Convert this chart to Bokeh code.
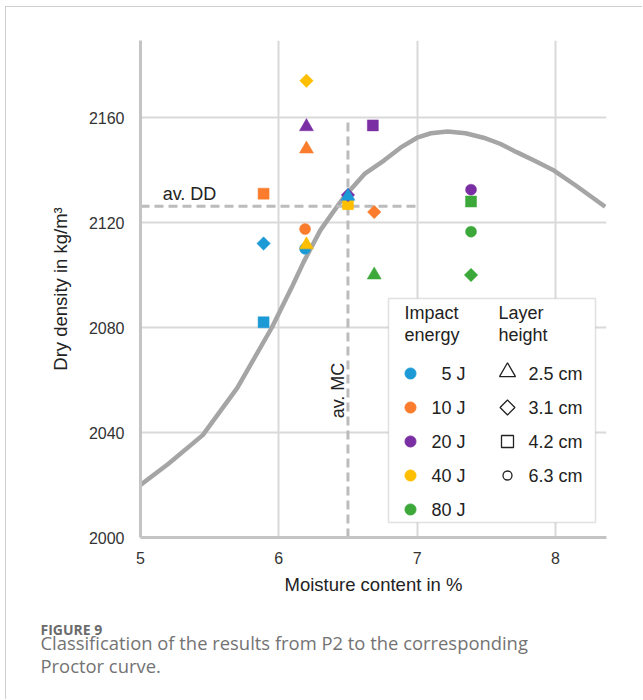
import math
from bokeh.plotting import figure
from bokeh.models import (Range1d, FixedTicker, Label, BoxAnnotation,
                          ColumnDataSource, Title)
from bokeh.embed import file_html
from bokeh.resources import INLINE

# ---------------- data ----------------
# Proctor curve
curve_mc = [5.0, 5.2, 5.45, 5.7, 5.95, 6.1, 6.18, 6.3, 6.38, 6.47, 6.62, 6.76,
            6.88, 7.0, 7.1, 7.22, 7.35, 7.48, 7.6, 7.72, 7.85, 7.99, 8.15, 8.36]
curve_dd = [2020, 2028, 2039, 2057, 2080, 2096, 2105, 2117, 2123, 2129.6, 2138.5, 2143.6,
            2148.5, 2152.3, 2154, 2154.7, 2154, 2152.3, 2150, 2146.8, 2143.5, 2139.8, 2134, 2126]

# P2 results (drawing order as in the reference)
pt_energy = ["5 J", "5 J", "5 J", "10 J", "10 J", "10 J", "10 J", "20 J", "20 J", "20 J",
             "40 J", "40 J", "40 J", "20 J", "5 J", "80 J", "80 J", "80 J", "80 J"]
pt_layer = ["3.1 cm", "4.2 cm", "6.3 cm", "2.5 cm", "3.1 cm", "4.2 cm", "6.3 cm", "2.5 cm", "4.2 cm", "6.3 cm",
            "3.1 cm", "2.5 cm", "4.2 cm", "3.1 cm", "2.5 cm", "2.5 cm", "3.1 cm", "4.2 cm", "6.3 cm"]
pt_mc = [5.89, 5.89, 6.19, 6.2, 6.69, 5.89, 6.19, 6.2, 6.68, 7.39,
         6.2, 6.2, 6.5, 6.5, 6.5, 6.69, 7.39, 7.39, 7.39]
pt_dd = [2112, 2082, 2110, 2148, 2124, 2131, 2117.5, 2156.5, 2157, 2132.5,
         2174, 2111.5, 2127, 2130.5, 2130, 2100, 2100, 2128, 2116.5]

av_mc = 6.5
av_dd = 2126.2

energies = ["5 J", "10 J", "20 J", "40 J", "80 J"]
layers = ["2.5 cm", "3.1 cm", "4.2 cm", "6.3 cm"]
y_ticks = [2000, 2040, 2080, 2120, 2160]
x_ticks = [5, 6, 7, 8]

# ---------------- styles ----------------
energy_color = {"5 J": "#1c9ad6", "10 J": "#fa7c2c", "20 J": "#7a2ea3",
                "40 J": "#fdbf00", "80 J": "#3ca83a"}
layer_marker = {"2.5 cm": "triangle", "3.1 cm": "square", "4.2 cm": "square", "6.3 cm": "circle"}
layer_size = {"2.5 cm": 14, "3.1 cm": 9.5, "4.2 cm": 11, "6.3 cm": 11}
layer_angle = {"2.5 cm": 0.0, "3.1 cm": math.pi / 4, "4.2 cm": 0.0, "6.3 cm": 0.0}

FONT = "Liberation Sans"
CAP_FONT = "Open Sans"

# page frame offset (grey page border at left/top)
OX, OY = 6, 7
W, H = 643 - OX, 700 - OY
L = 140 - OX          # frame left in canvas px
T = 40 - OY           # frame top in canvas px
R = 643 - 606
B = 700 - 537
FW, FH = W - L - R, H - T - B
px_per_x = 138.3
px_per_y = 2.625

p = figure(width=W, height=H,
           x_range=Range1d(5, 5 + FW / px_per_x),
           y_range=Range1d(2000, 2000 + FH / px_per_y),
           output_backend="svg", toolbar_location=None,
           min_border_left=L, min_border_right=R, min_border_top=T, min_border_bottom=B)
p.outline_line_color = None
p.background_fill_color = "white"
p.border_fill_color = "white"
p.styles = {"margin-left": f"{OX - 1}px", "margin-top": f"{OY - 1}px",
            "border-left": "1px solid #cfcfcf", "border-top": "1px solid #cfcfcf"}

# pixel-space range for the legend
p.extra_x_ranges = {"px": Range1d(0, FW)}
p.extra_y_ranges = {"px": Range1d(0, FH)}

# axes
for ax in (p.xaxis[0], p.yaxis[0]):
    ax.axis_line_color = "#c4c4c4"
    ax.axis_line_width = 3
    ax.major_tick_line_color = None
    ax.minor_tick_line_color = None
    ax.major_label_text_font = FONT
    ax.major_label_text_font_size = "16px"
    ax.major_label_text_color = "#333333"
    ax.axis_label_text_font = FONT
    ax.axis_label_text_font_size = "18.5px"
    ax.axis_label_text_font_style = "normal"
    ax.axis_label_text_color = "#222222"

p.xaxis.ticker = FixedTicker(ticks=x_ticks)
p.yaxis.ticker = FixedTicker(ticks=y_ticks)
p.xaxis.axis_label = "Moisture content in %"
p.yaxis.axis_label = "Dry density in kg/m³"
p.xaxis.major_label_standoff = 8
p.yaxis.major_label_standoff = 10
p.xaxis.axis_label_standoff = 7
p.yaxis.axis_label_standoff = 15

p.xgrid.ticker = FixedTicker(ticks=[6, 7, 8])
p.ygrid.ticker = FixedTicker(ticks=[2040, 2080, 2120, 2160])
p.grid.grid_line_color = "#d9d9d9"
p.grid.grid_line_width = 2

# Proctor curve
p.line(curve_mc, curve_dd, line_color="#a5a5a5", line_width=4.5)

# average lines
p.line([5, 7], [av_dd, av_dd], line_color="#bcbcbc", line_width=3, line_dash="9 5")
p.line([av_mc, av_mc], [2000, 2160], line_color="#bcbcbc", line_width=3, line_dash="9 5")

p.add_layout(Label(x=5.16, y=av_dd + 4.5, text="av. DD", text_font=FONT,
                   text_font_size="18px", text_color="#222222", text_baseline="middle"))
p.add_layout(Label(x=6.425, y=2056, text="av. MC", text_font=FONT, angle=math.pi / 2,
                   text_font_size="18px", text_color="#222222",
                   text_baseline="middle", text_align="center"))

# points
src = ColumnDataSource(dict(
    x=pt_mc, y=pt_dd,
    color=[energy_color[e] for e in pt_energy],
    marker=[layer_marker[l] for l in pt_layer],
    size=[layer_size[l] for l in pt_layer],
    angle=[layer_angle[l] for l in pt_layer],
))
p.scatter("x", "y", source=src, marker="marker", size="size", angle="angle",
          fill_color="color", line_color="color", line_width=0.5)

# ---------------- legend (pixel space of the frame) ----------------
def sx(cx):
    return cx - 140

def sy(cy):
    return 537 - cy

p.add_layout(BoxAnnotation(left=sx(388), right=sx(595), top=sy(298), bottom=sy(522),
                           left_units="screen", right_units="screen",
                           top_units="screen", bottom_units="screen",
                           fill_color="white", fill_alpha=1.0,
                           line_color="#9a9a9a", line_width=1.5, level="annotation"))

hdr = dict(text_font=FONT, text_font_size="18px", text_color="#222222",
           text_baseline="middle", x_units="screen", y_units="screen", level="overlay")
p.add_layout(Label(x=sx(404), y=sy(312), text="Impact", **hdr))
p.add_layout(Label(x=sx(404), y=sy(334), text="energy", **hdr))
p.add_layout(Label(x=sx(498), y=sy(312), text="Layer", **hdr))
p.add_layout(Label(x=sx(498), y=sy(334), text="height", **hdr))

row_y = [373, 407, 441, 475, 509]
leg_src = ColumnDataSource(dict(
    x=[sx(410)] * len(energies),
    y=[sy(row_y[i]) for i in range(len(energies))],
    color=[energy_color[e] for e in energies],
))
p.scatter("x", "y", source=leg_src, marker="circle", size=11, fill_color="color",
          line_color="color", x_range_name="px", y_range_name="px", level="overlay")
for i, e in enumerate(energies):
    p.add_layout(Label(x=sx(465), y=sy(row_y[i]), text=e, text_align="right", **hdr))

shape_marker = {"2.5 cm": "triangle", "3.1 cm": "square", "4.2 cm": "square", "6.3 cm": "circle"}
shape_size = {"2.5 cm": 16, "3.1 cm": 10.5, "4.2 cm": 12, "6.3 cm": 9}
shape_angle = {"2.5 cm": 0.0, "3.1 cm": math.pi / 4, "4.2 cm": 0.0, "6.3 cm": 0.0}
shp_src = ColumnDataSource(dict(
    x=[sx(507)] * len(layers),
    y=[sy(row_y[i]) + (1.5 if layers[i] == "2.5 cm" else 0) for i in range(len(layers))],
    marker=[shape_marker[l] for l in layers],
    size=[shape_size[l] for l in layers],
    angle=[shape_angle[l] for l in layers],
))
p.scatter("x", "y", source=shp_src, marker="marker", size="size", angle="angle",
          fill_color=None, line_color="#222222", line_width=1.3,
          x_range_name="px", y_range_name="px", level="overlay")
for i, l in enumerate(layers):
    p.add_layout(Label(x=sx(528), y=sy(row_y[i]), text=l, **hdr))

# ---------------- caption (titles below the x axis) ----------------
cap_off = 40 - 140
# blank spacer between the x axis and the caption
p.add_layout(Title(text=" ", align="left", offset=0, standoff=4,
                   text_font=CAP_FONT, text_font_size="10px", text_color="white"), "below")
p.add_layout(Title(text="FIGURE 9", align="left", offset=cap_off, standoff=0,
                   text_font=CAP_FONT, text_font_size="14px", text_font_style="bold",
                   text_color="#6b6b6b"), "below")
p.add_layout(Title(text="Classification of the results from P2 to the corresponding",
                   align="left", offset=cap_off, standoff=-21,
                   text_font=CAP_FONT, text_font_size="18.4px", text_font_style="normal",
                   text_color="#737373"), "below")
p.add_layout(Title(text="Proctor curve.", align="left", offset=cap_off, standoff=13,
                   text_font=CAP_FONT, text_font_size="18.4px", text_font_style="normal",
                   text_color="#737373"), "below")

open("out.html", "w").write(file_html(p, INLINE))
